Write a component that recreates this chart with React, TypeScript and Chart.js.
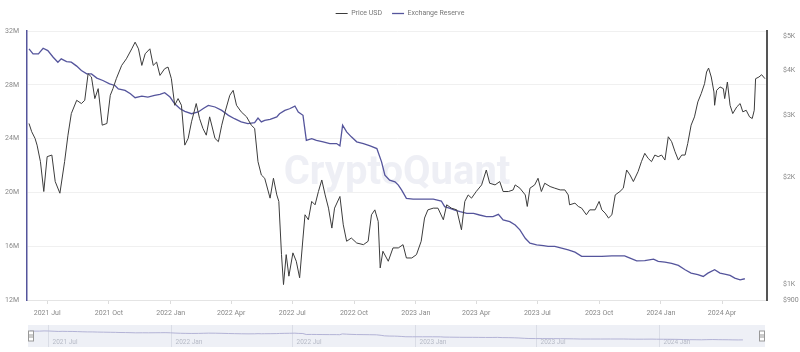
import React, { useEffect, useRef } from "react";
import { Chart, registerables } from "chart.js";

Chart.register(...registerables);

const priceDates = ["2021-06-04","2021-06-08","2021-06-13","2021-06-16","2021-06-21","2021-06-26","2021-07-01","2021-07-08","2021-07-13","2021-07-20","2021-07-27","2021-08-01","2021-08-06","2021-08-14","2021-08-21","2021-08-26","2021-08-31","2021-09-05","2021-09-10","2021-09-15","2021-09-21","2021-09-28","2021-10-03","2021-10-07","2021-10-12","2021-10-20","2021-10-27","2021-11-04","2021-11-09","2021-11-14","2021-11-19","2021-11-24","2021-12-01","2021-12-06","2021-12-11","2021-12-16","2021-12-23","2021-12-28","2022-01-02","2022-01-07","2022-01-12","2022-01-17","2022-01-22","2022-01-27","2022-02-01","2022-02-08","2022-02-13","2022-02-18","2022-02-23","2022-02-28","2022-03-08","2022-03-13","2022-03-18","2022-03-23","2022-03-30","2022-04-04","2022-04-09","2022-04-16","2022-04-24","2022-05-01","2022-05-06","2022-05-11","2022-05-16","2022-05-21","2022-05-29","2022-06-03","2022-06-08","2022-06-11","2022-06-15","2022-06-18","2022-06-22","2022-06-26","2022-07-02","2022-07-07","2022-07-12","2022-07-17","2022-07-20","2022-07-25","2022-07-30","2022-08-04","2022-08-09","2022-08-14","2022-08-19","2022-08-24","2022-08-29","2022-09-02","2022-09-10","2022-09-15","2022-09-20","2022-09-27","2022-10-05","2022-10-15","2022-10-22","2022-10-27","2022-11-01","2022-11-06","2022-11-09","2022-11-13","2022-11-21","2022-11-28","2022-12-06","2022-12-13","2022-12-18","2022-12-26","2023-01-02","2023-01-09","2023-01-14","2023-01-19","2023-01-27","2023-02-03","2023-02-11","2023-02-16","2023-02-23","2023-03-03","2023-03-10","2023-03-15","2023-03-20","2023-03-25","2023-04-01","2023-04-09","2023-04-16","2023-04-21","2023-04-29","2023-05-06","2023-05-11","2023-05-19","2023-05-26","2023-05-29","2023-06-05","2023-06-13","2023-06-16","2023-06-20","2023-06-27","2023-07-02","2023-07-07","2023-07-12","2023-07-20","2023-07-27","2023-08-04","2023-08-11","2023-08-16","2023-08-18","2023-08-26","2023-08-31","2023-09-05","2023-09-12","2023-09-17","2023-09-25","2023-10-01","2023-10-05","2023-10-10","2023-10-15","2023-10-20","2023-10-25","2023-11-01","2023-11-06","2023-11-11","2023-11-16","2023-11-21","2023-11-28","2023-12-03","2023-12-08","2023-12-13","2023-12-18","2023-12-23","2023-12-28","2024-01-02","2024-01-07","2024-01-12","2024-01-17","2024-01-22","2024-01-27","2024-02-01","2024-02-06","2024-02-10","2024-02-15","2024-02-20","2024-02-25","2024-03-01","2024-03-06","2024-03-09","2024-03-12","2024-03-16","2024-03-20","2024-03-21","2024-03-24","2024-03-29","2024-04-03","2024-04-05","2024-04-09","2024-04-13","2024-04-17","2024-04-23","2024-04-28","2024-05-02","2024-05-07","2024-05-12","2024-05-16","2024-05-19","2024-05-21","2024-05-26","2024-05-30","2024-06-04"];

const priceUSD = [2838,2690,2575,2465,2214,1823,2287,2311,1945,1803,2214,2630,3027,3300,3231,3300,3923,3840,3337,3560,2807,2838,3409,3560,3798,4141,4323,4613,4817,4613,4141,4466,4613,4141,4232,3880,4053,4097,3798,3195,3337,3195,2465,2575,2869,3231,2931,2748,2630,2963,2575,2521,2807,3061,3409,3521,3195,3061,2963,2807,2748,2214,2030,1987,1746,1987,1783,1709,1209,995,1209,1051,1223,1158,1040,1347,1567,1517,1709,1672,1823,1965,1783,1636,1437,1636,1765,1468,1319,1347,1304,1290,1319,1567,1618,1501,1109,1236,1158,1263,1263,1290,1183,1183,1209,1319,1534,1618,1636,1636,1517,1672,1636,1618,1421,1709,1783,1746,1823,1903,2097,1924,1903,1945,1823,1823,1842,1903,1863,1783,1654,1863,1903,1987,1823,1924,1883,1863,1842,1842,1783,1672,1690,1654,1636,1567,1618,1618,1709,1618,1584,1534,1567,1783,1823,1863,2097,2030,1945,2075,2214,2337,2262,2214,2311,2287,2311,2237,2603,2521,2362,2237,2311,2311,2493,2807,2963,3266,3446,3677,3967,4070,3840,3484,3195,3521,3600,3560,3337,3717,3195,3027,3162,3231,3061,3093,2963,2931,3093,3798,3840,3898,3798];

const reserveDates = ["2021-06-04","2021-06-10","2021-06-18","2021-06-25","2021-07-02","2021-07-10","2021-07-17","2021-07-22","2021-07-30","2021-08-06","2021-08-14","2021-08-21","2021-08-29","2021-09-05","2021-09-13","2021-09-22","2021-10-02","2021-10-10","2021-10-15","2021-10-25","2021-11-02","2021-11-09","2021-11-19","2021-11-28","2021-12-08","2021-12-16","2021-12-23","2021-12-31","2022-01-07","2022-01-15","2022-01-22","2022-02-01","2022-02-11","2022-02-18","2022-02-26","2022-03-08","2022-03-18","2022-03-28","2022-04-06","2022-04-16","2022-04-26","2022-05-06","2022-05-11","2022-05-16","2022-05-21","2022-05-29","2022-06-08","2022-06-12","2022-06-20","2022-06-27","2022-07-05","2022-07-10","2022-07-17","2022-07-22","2022-07-30","2022-08-06","2022-08-16","2022-08-26","2022-09-05","2022-09-10","2022-09-14","2022-09-20","2022-09-27","2022-10-05","2022-10-15","2022-10-25","2022-11-04","2022-11-11","2022-11-16","2022-11-23","2022-12-01","2022-12-06","2022-12-11","2022-12-18","2022-12-28","2023-01-12","2023-01-27","2023-02-08","2023-02-13","2023-02-21","2023-02-28","2023-03-08","2023-03-18","2023-03-28","2023-04-06","2023-04-16","2023-04-26","2023-05-04","2023-05-11","2023-05-21","2023-05-29","2023-06-05","2023-06-13","2023-06-20","2023-06-30","2023-07-10","2023-07-17","2023-07-27","2023-08-06","2023-08-16","2023-08-26","2023-09-05","2023-09-20","2023-10-05","2023-10-20","2023-11-08","2023-11-16","2023-11-26","2023-12-08","2023-12-21","2023-12-28","2024-01-07","2024-01-17","2024-01-27","2024-02-06","2024-02-15","2024-02-25","2024-03-04","2024-03-11","2024-03-21","2024-03-29","2024-04-05","2024-04-13","2024-04-20","2024-04-28","2024-05-05"];

const reserveMillions = [30.67,30.30,30.30,30.72,30.54,30.05,29.68,29.93,29.73,29.68,29.39,29.06,28.81,28.81,28.50,28.32,28.07,27.95,27.70,27.58,27.33,27.04,27.16,27.09,27.21,27.28,27.41,27.09,26.59,26.22,26.02,25.85,25.98,26.22,26.47,26.35,26.10,25.73,25.48,25.24,25.11,25.19,25.53,25.24,25.36,25.43,25.61,25.85,26.10,26.22,26.42,25.98,25.73,23.87,24.00,23.87,23.76,23.63,23.63,23.46,24.99,24.50,24.13,23.76,23.63,23.46,23.26,22.27,21.28,20.91,20.79,20.54,20.17,19.56,19.50,19.50,19.50,19.36,18.94,18.81,18.69,18.57,18.44,18.44,18.32,18.20,18.20,18.37,17.95,17.83,17.58,17.21,16.59,16.22,16.10,16.05,15.98,15.98,15.85,15.73,15.56,15.24,15.24,15.24,15.28,15.28,15.11,14.91,14.93,15.04,14.87,14.81,14.72,14.57,14.25,14.00,13.88,13.75,14.00,14.25,14.00,13.93,13.83,13.63,13.50,13.58];

const axisTickMonths = ["2021-07","2021-10","2022-01","2022-04","2022-07","2022-10","2023-01","2023-04","2023-07","2023-10","2024-01","2024-04"];
const navTickMonths = ["2021-07","2022-01","2022-07","2023-01","2023-07","2024-01"];
const priceTicks = [900, 1000, 2000, 3000, 4000, 5000];
const reserveTicks = [12, 16, 20, 24, 28, 32];
const monthNames = ["Jan","Feb","Mar","Apr","May","Jun","Jul","Aug","Sep","Oct","Nov","Dec"];
const rangeStart = "2021-06-01";
const rangeEnd = "2024-06-07";

const ts = (s: string) => {
  const p = s.split("-").map(Number);
  return Date.UTC(p[0], p[1] - 1, p[2] || 1);
};
const fmtMonth = (v: number) => {
  const d = new Date(v);
  return d.getUTCFullYear() + " " + monthNames[d.getUTCMonth()];
};

const FONT = "Roboto, 'Noto Sans', sans-serif";
const PRICE_COLOR = "#3c3c3c";
const RESERVE_COLOR = "#55559c";

export default function App() {
  const mainRef = useRef<HTMLCanvasElement>(null);
  const navRef = useRef<HTMLCanvasElement>(null);

  useEffect(() => {
    document.body.style.margin = "0";
    const priceData = priceDates.map((d, i) => ({ x: ts(d), y: priceUSD[i] }));
    const reserveData = reserveDates.map((d, i) => ({ x: ts(d), y: reserveMillions[i] }));
    const xMin = ts(rangeStart);
    const xMax = ts(rangeEnd);

    const legendGap = {
      id: "legendGap",
      beforeInit(chart: any) {
        const legend = chart.legend;
        if (!legend) return;
        const origFit = legend.fit;
        legend.fit = function () {
          origFit.call(this);
          this.height += 4;
        };
      },
    };

    const watermark = {
      id: "watermark",
      beforeDatasetsDraw(chart: any) {
        const { ctx, chartArea } = chart;
        ctx.save();
        ctx.font = "bold 40px " + FONT;
        ctx.fillStyle = "rgba(205,210,225,0.35)";
        ctx.textAlign = "center";
        ctx.textBaseline = "middle";
        ctx.fillText("CryptoQuant", (chartArea.left + chartArea.right) / 2, 174);
        ctx.restore();
      },
    };

    const main = new Chart(mainRef.current!, {
      type: "line",
      data: {
        datasets: [
          {
            label: "Price USD",
            data: priceData,
            yAxisID: "y1",
            borderColor: PRICE_COLOR,
            backgroundColor: PRICE_COLOR,
            borderWidth: 1,
            pointRadius: 0,
            tension: 0,
          },
          {
            label: "Exchange Reserve",
            data: reserveData,
            yAxisID: "y",
            borderColor: RESERVE_COLOR,
            backgroundColor: RESERVE_COLOR,
            borderWidth: 1.3,
            pointRadius: 0,
            tension: 0,
          },
        ],
      },
      options: {
        responsive: false,
        animation: false,
        layout: { padding: { top: 0, left: 0, right: 0, bottom: 0 } },
        plugins: {
          legend: {
            position: "top",
            labels: {
              usePointStyle: true,
              pointStyle: "line",
              pointStyleWidth: 12,
              boxHeight: 6,
              color: "#777",
              font: { size: 7, family: FONT },
              padding: 10,
            },
          },
          tooltip: { enabled: false },
        },
        scales: {
          x: {
            type: "linear",
            min: xMin,
            max: xMax,
            afterBuildTicks: (scale: any) => {
              scale.ticks = axisTickMonths.map((m) => ({ value: ts(m) }));
            },
            afterFit: (scale: any) => {
              scale.height = 22;
            },
            ticks: {
              autoSkip: false,
              maxRotation: 0,
              color: "#888",
              font: { size: 7, family: FONT },
              padding: 5,
              callback: (v: any) => fmtMonth(Number(v)),
            },
            grid: { drawOnChartArea: false, drawTicks: true, tickLength: 4, color: "#dcdcdc" },
            border: { display: true, color: "#e4e4e4" },
          },
          y: {
            type: "linear",
            position: "left",
            min: 12,
            max: 32,
            afterBuildTicks: (scale: any) => {
              scale.ticks = reserveTicks.map((v) => ({ value: v }));
            },
            afterFit: (scale: any) => {
              scale.width = 27;
            },
            ticks: {
              color: "#888",
              font: { size: 7, family: FONT },
              padding: 8,
              callback: (v: any) => v + "M",
            },
            grid: { color: "#f0f0f0", drawTicks: false },
            border: { display: true, color: RESERVE_COLOR, width: 1.5 },
          },
          y1: {
            type: "logarithmic",
            position: "right",
            min: 900,
            max: 5180,
            afterBuildTicks: (scale: any) => {
              scale.ticks = priceTicks.map((v) => ({ value: v }));
            },
            afterFit: (scale: any) => {
              scale.width = 33;
            },
            ticks: {
              color: "#888",
              font: { size: 7, family: FONT },
              padding: 8,
              callback: (v: any) => (Number(v) >= 1000 ? "$" + Number(v) / 1000 + "K" : "$" + v),
            },
            grid: { display: false, drawOnChartArea: false },
            border: { display: true, color: "#555", width: 2 },
          },
        },
      },
      plugins: [legendGap, watermark],
    } as any);

    const navDecor = {
      id: "navDecor",
      beforeDatasetsDraw(chart: any) {
        const { ctx, chartArea, scales } = chart;
        ctx.save();
        ctx.fillStyle = "#eef0f6";
        ctx.fillRect(chartArea.left, chartArea.top, chartArea.right - chartArea.left, chartArea.bottom - chartArea.top);
        ctx.strokeStyle = "#dadde6";
        ctx.lineWidth = 1;
        ctx.fillStyle = "#b6bac6";
        ctx.font = "6.5px " + FONT;
        ctx.textAlign = "left";
        ctx.textBaseline = "middle";
        navTickMonths.forEach((m) => {
          const x = Math.round(scales.x.getPixelForValue(ts(m))) + 0.5;
          ctx.beginPath();
          ctx.moveTo(x, chartArea.top);
          ctx.lineTo(x, chartArea.bottom);
          ctx.stroke();
          ctx.fillText(fmtMonth(ts(m)), x + 4, chartArea.bottom - 5);
        });
        ctx.restore();
      },
      afterDraw(chart: any) {
        const { ctx, chartArea } = chart;
        ctx.save();
        ctx.fillStyle = "#fff";
        ctx.strokeStyle = "#999";
        ctx.lineWidth = 1;
        const mid = (chartArea.top + chartArea.bottom) / 2;
        [chartArea.left + 0.5, chartArea.right - 5.5].forEach((x) => {
          ctx.fillRect(x, mid - 5, 5, 10);
          ctx.strokeRect(x, mid - 5, 5, 10);
          ctx.beginPath();
          ctx.moveTo(x + 1.5, mid - 2);
          ctx.lineTo(x + 1.5, mid + 2);
          ctx.moveTo(x + 3.5, mid - 2);
          ctx.lineTo(x + 3.5, mid + 2);
          ctx.stroke();
        });
        ctx.restore();
      },
    };

    const nav = new Chart(navRef.current!, {
      type: "line",
      data: {
        datasets: [
          {
            label: "Exchange Reserve",
            data: reserveData,
            borderColor: "#b3b3d6",
            borderWidth: 1,
            pointRadius: 0,
            tension: 0,
          },
        ],
      },
      options: {
        responsive: false,
        animation: false,
        layout: { padding: { top: 3, left: 28, right: 35, bottom: 5 } },
        plugins: { legend: { display: false }, tooltip: { enabled: false } },
        scales: {
          x: { type: "linear", display: false, min: xMin, max: xMax },
          y: { display: false, min: 0, max: 42 },
        },
      },
      plugins: [navDecor],
    } as any);

    return () => {
      main.destroy();
      nav.destroy();
    };
  }, []);

  return (
    <div style={{ width: 800, height: 352, background: "#fff", position: "relative" }}>
      <canvas ref={mainRef} width={800} height={322} style={{ display: "block" }} />
      <canvas ref={navRef} width={800} height={30} style={{ display: "block" }} />
    </div>
  );
}
